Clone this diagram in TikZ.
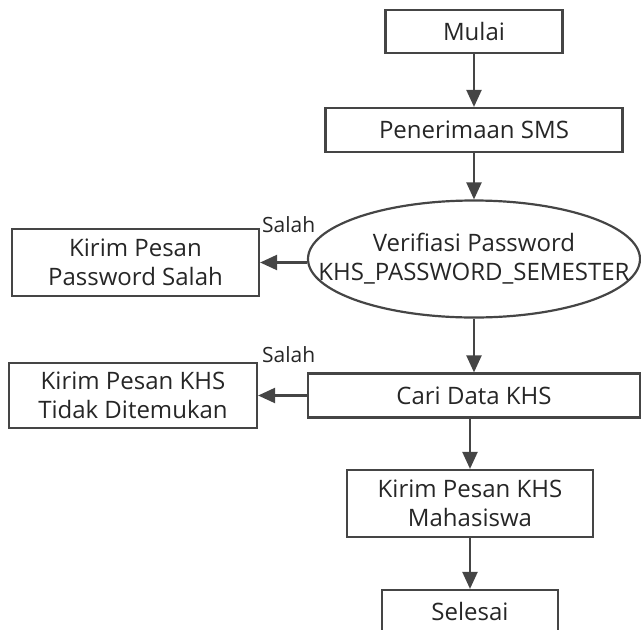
\documentclass[tikz,border=0pt]{standalone}
\usepackage{fontspec}
\setmainfont{Open Sans}
\usetikzlibrary{arrows.meta,shapes.geometric}
\definecolor{linec}{HTML}{454545}
\definecolor{textc}{HTML}{262626}
\begin{document}
\begin{tikzpicture}[x=1pt,y=-1pt,
  every node/.style={text=textc,font=\fontsize{24}{29}\selectfont,align=center,inner sep=0pt},
  every label/.style={text=textc,font=\fontsize{24}{29}\selectfont,align=center,inner sep=0pt},
  boxn/.style={draw=linec,line width=2.2pt,rectangle},
  elln/.style={draw=linec,line width=2.2pt,ellipse},
  arr/.style={draw=linec,line width=2.2pt,-{Triangle[length=17pt,width=15pt]}},
  lbl/.style={anchor=base west,font=\fontsize{21}{25}\selectfont}
]
\useasboundingbox (0,0) rectangle (641,630);
\clip (0,0) rectangle (641,630);
\node[boxn,minimum width=177pt,minimum height=43pt] (mulai) at (474,31.5) {Mulai};
\node[boxn,minimum width=297pt,minimum height=44pt] (sms) at (474,130) {Penerimaan SMS};
\node[elln,minimum width=332pt,minimum height=117pt,label={center:Verifiasi Password\\KHS\_PASSWORD\_SEMESTER}] (verif) at (474,259) {};
\node[boxn,minimum width=247pt,minimum height=67pt] (pwsalah) at (135.5,262.5) {Kirim Pesan\\Password Salah};
\node[boxn,minimum width=332pt,minimum height=44pt] (cari) at (474,395.5) {Cari Data KHS};
\node[boxn,minimum width=248pt,minimum height=65pt] (tidak) at (133,395.5) {Kirim Pesan KHS\\Tidak Ditemukan};
\node[boxn,minimum width=246pt,minimum height=67pt] (maha) at (470,503.5) {Kirim Pesan KHS\\Mahasiswa};
\node[boxn,minimum width=176pt,minimum height=43pt] (selesai) at (470,611.5) {Selesai};
\node[lbl] (s1) at (262,232) {Salah};
\node[lbl] (s2) at (262,362) {Salah};
\draw[arr] (mulai) -- (sms);
\draw[arr] (sms) -- (verif);
\draw[arr] (verif.west |- pwsalah.east) -- (pwsalah.east);
\draw[arr] (verif) -- (cari);
\draw[arr] (cari.west |- tidak.east) -- (tidak.east);
\draw[arr] (cari.south -| maha.north) -- (maha.north);
\draw[arr] (maha) -- (selesai);
\end{tikzpicture}
\end{document}
